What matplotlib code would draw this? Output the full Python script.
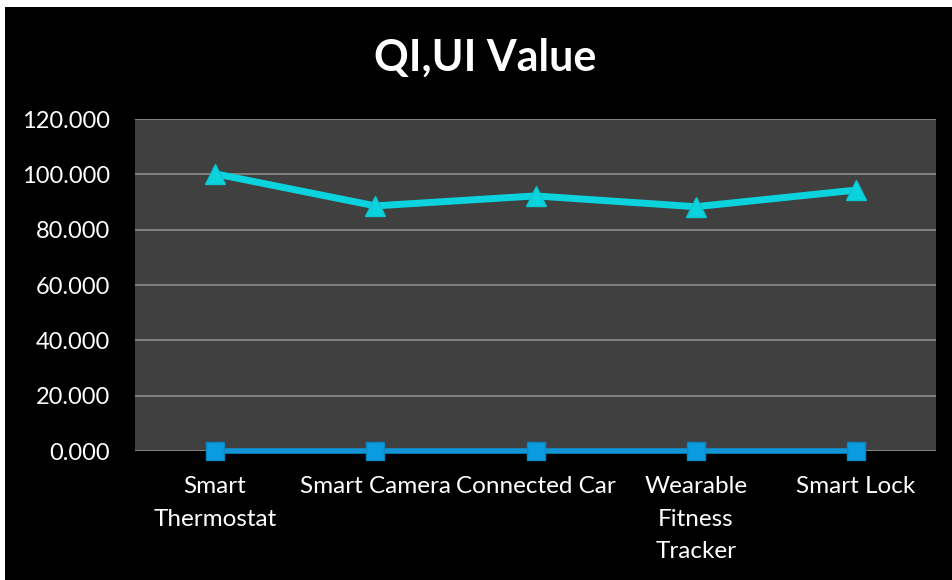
import matplotlib
matplotlib.use('Agg')
import matplotlib.pyplot as plt
from matplotlib.patches import Rectangle

categories = ['Smart\nThermostat', 'Smart Camera', 'Connected Car',
              'Wearable\nFitness\nTracker', 'Smart Lock']
qi_values = [100.2, 88.6, 92.2, 88.3, 94.3]   # triangle series
ui_values = [0.0, 0.0, 0.0, 0.0, 0.0]         # square series
y_ticks = [0, 20, 40, 60, 80, 100, 120]

plt.rcParams['font.family'] = ['Lato', 'DejaVu Sans']

fig = plt.figure(figsize=(9.53, 5.80), dpi=100, facecolor='white')
# black panel, thin white margin at top and left
fig.patches.append(Rectangle((5 / 953, 0), 1, 1 - 7 / 580, transform=fig.transFigure,
                             facecolor='black', edgecolor='none', zorder=-10))

ax = fig.add_axes([135 / 953, 1 - 451 / 580, 801 / 953, 332 / 580])
ax.set_zorder(5)
ax.set_facecolor('#404040')
x = list(range(len(categories)))

ax.plot(x, ui_values, color='#0E96D6', lw=4, marker='s', ms=13,
        markerfacecolor='#0A9BE0', markeredgecolor='#0A86C4', zorder=3, clip_on=False)
ax.plot(x, qi_values, color='#0BD3DE', lw=5, marker='^', ms=15,
        markerfacecolor='#0BD3DE', markeredgecolor='#0BC4CF', zorder=4, clip_on=False)

ax.set_xlim(-0.5, len(categories) - 0.5)
ax.set_ylim(0, 120)
ax.set_yticks(y_ticks)
ax.set_yticklabels([f'{v:.3f}' for v in y_ticks], color='white', fontsize=17)
ax.set_xticks(x)
ax.set_xticklabels(categories, color='white', fontsize=17.5, linespacing=1.68, va='top')
ax.tick_params(length=0)
ax.tick_params(axis='x', pad=18)
ax.tick_params(axis='y', pad=18)
ax.grid(axis='y', color='#8C8C8C', lw=1.2)
ax.set_axisbelow(True)
for s in ax.spines.values():
    s.set_visible(False)

title = fig.text(485 / 953, 1 - 58 / 580, 'QI,UI Value', color='white', fontsize=31,
                 fontweight='bold', ha='center', va='center')
title.set_zorder(6)

fig.savefig('out.png', dpi=100, facecolor=fig.get_facecolor())
